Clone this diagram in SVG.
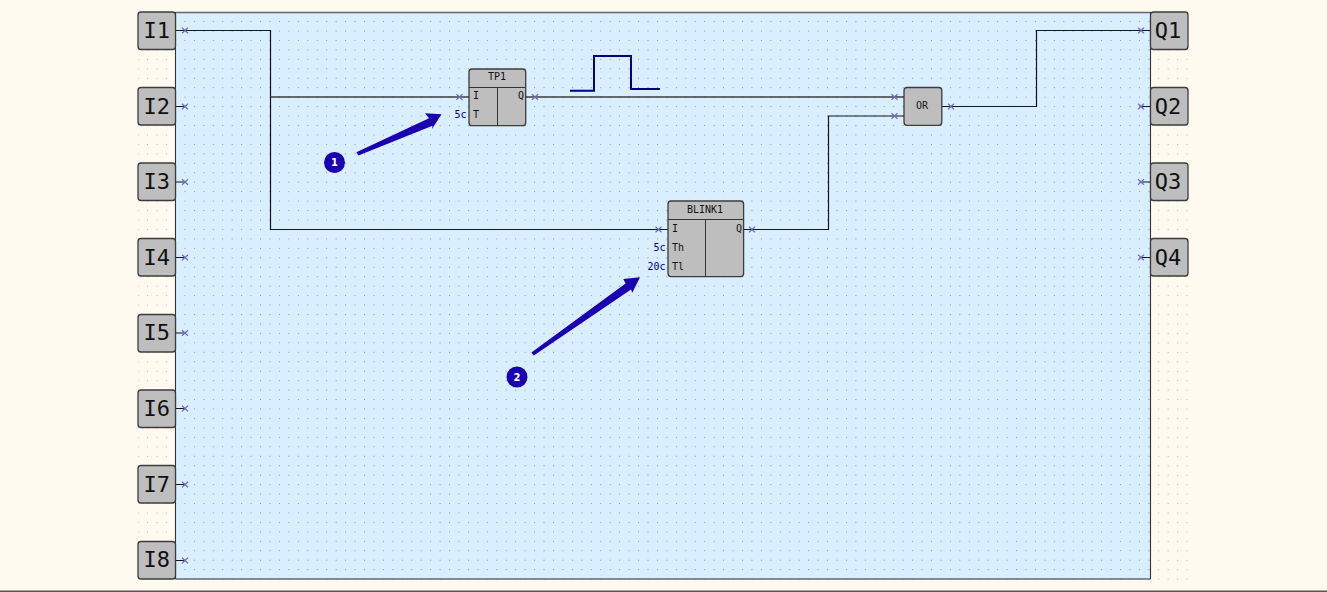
<svg xmlns="http://www.w3.org/2000/svg" xmlns:xlink="http://www.w3.org/1999/xlink" width="1327" height="592" viewBox="0 0 1327 592">
<style>
.box{fill:#bebebe;stroke:#3c3c3c;stroke-width:1.3}
.pin{font:22px "DejaVu Sans Mono","Liberation Mono",monospace;fill:#111;text-anchor:middle}
.lbl{font:10px "DejaVu Sans Mono","Liberation Mono",monospace;fill:#111}
.val{font:10px "DejaVu Sans Mono","Liberation Mono",monospace;fill:#00008b;text-anchor:end}
.mid{text-anchor:middle}
.end{text-anchor:end}
.div{stroke:#333;stroke-width:1;fill:none}
.wire{stroke:#151515;stroke-width:1.2;fill:none}
.wire2{stroke:#3c3c3c;stroke-width:1.6;fill:none}
.num{font:bold 10px "DejaVu Sans",sans-serif;fill:#fff;text-anchor:middle}
</style>
<defs>
<pattern id="gridOut" x="137.6" y="11.7" width="9.45" height="9.45" patternUnits="userSpaceOnUse"><rect x="0" y="0" width="1" height="1" fill="#b9b9b0"/></pattern>
<pattern id="gridIn" x="175" y="11.6" width="9.45" height="9.45" patternUnits="userSpaceOnUse"><rect x="0" y="0" width="1" height="1" fill="#84949f"/></pattern>
<path id="x" d="M-3-2.8 3 2.8M-3 2.8 3-2.8" stroke="#6c6cc4" stroke-width="1.2" fill="none"/>
</defs>
<rect width="1327" height="592" fill="#fffaf0"/>
<rect x="138" y="12" width="1051" height="568" fill="url(#gridOut)"/>
<rect x="0" y="590.5" width="1327" height="1.5" fill="#555"/>
<g id="board">
<rect x="176" y="12.5" width="974.5" height="566.5" fill="#d9eefe"/>
<rect x="176" y="12.5" width="974.5" height="566.5" fill="url(#gridIn)"/>
<path d="M175.5 12.5H1150.5" stroke="#666" stroke-width="1.6" fill="none"/>
<path d="M175.5 579H1150.5" stroke="#667" stroke-width="1.6" fill="none"/>
<path d="M175.5 12V579M1150.5 12V579" stroke="#333" stroke-width="1.1" fill="none"/>
</g>
<g id="connectors">
<path class="wire" d="M176 30.5H270.5V229.5H668"/>
<path class="wire2" d="M270.5 97H469"/>
<path class="wire2" d="M526 97H904"/>
<path class="wire" d="M744 229.5H828.5V116H904"/>
<path class="wire" d="M942 106.5H1036.5V30.5H1150"/>
<path class="wire" d="M176 106.5H185M176 182H185M176 257.5H185M176 333H185M176 408.5H185M176 484.5H185M176 560.5H185M1141 106.5H1150M1141 182H1150M1141 257.5H1150"/>
</g>
<g id="ports">
<use xlink:href="#x" x="185" y="30.5"/><use xlink:href="#x" x="185" y="106.5"/><use xlink:href="#x" x="185" y="182"/><use xlink:href="#x" x="185" y="257.5"/><use xlink:href="#x" x="185" y="333"/><use xlink:href="#x" x="185" y="408.5"/><use xlink:href="#x" x="185" y="484.5"/><use xlink:href="#x" x="185" y="560.5"/>
<use xlink:href="#x" x="1141" y="30.5"/><use xlink:href="#x" x="1141" y="106.5"/><use xlink:href="#x" x="1141" y="182"/><use xlink:href="#x" x="1141" y="257.5"/>
<use xlink:href="#x" x="459.5" y="97"/><use xlink:href="#x" x="535" y="97"/><use xlink:href="#x" x="658.5" y="229.5"/><use xlink:href="#x" x="752" y="229.5"/><use xlink:href="#x" x="894.5" y="97"/><use xlink:href="#x" x="894.5" y="116"/><use xlink:href="#x" x="951" y="106.5"/>
</g>
<g id="I1"><rect class="box" x="138" y="12" width="37.5" height="37.5" rx="3"/><text class="pin" x="156.8" y="38">I1</text></g>
<g id="I2"><rect class="box" x="138" y="87.5" width="37.5" height="37.5" rx="3"/><text class="pin" x="156.8" y="113.5">I2</text></g>
<g id="I3"><rect class="box" x="138" y="163" width="37.5" height="37.5" rx="3"/><text class="pin" x="156.8" y="189">I3</text></g>
<g id="I4"><rect class="box" x="138" y="238.5" width="37.5" height="37.5" rx="3"/><text class="pin" x="156.8" y="264.5">I4</text></g>
<g id="I5"><rect class="box" x="138" y="314.5" width="37.5" height="37.5" rx="3"/><text class="pin" x="156.8" y="340">I5</text></g>
<g id="I6"><rect class="box" x="138" y="390" width="37.5" height="37.5" rx="3"/><text class="pin" x="156.8" y="415.5">I6</text></g>
<g id="I7"><rect class="box" x="138" y="465.5" width="37.5" height="37.5" rx="3"/><text class="pin" x="156.8" y="491.5">I7</text></g>
<g id="I8"><rect class="box" x="138" y="541.5" width="37.5" height="37.5" rx="3"/><text class="pin" x="156.8" y="567">I8</text></g>
<g id="Q1"><rect class="box" x="1150.5" y="12" width="37.5" height="37.5" rx="3"/><text class="pin" x="1168" y="38">Q1</text></g>
<g id="Q2"><rect class="box" x="1150.5" y="87.5" width="37.5" height="37.5" rx="3"/><text class="pin" x="1168" y="113.5">Q2</text></g>
<g id="Q3"><rect class="box" x="1150.5" y="163" width="37.5" height="37.5" rx="3"/><text class="pin" x="1168" y="189">Q3</text></g>
<g id="Q4"><rect class="box" x="1150.5" y="238.5" width="37.5" height="37.5" rx="3"/><text class="pin" x="1168" y="264.5">Q4</text></g>
<g id="TP1">
<rect class="box" x="469" y="69" width="56.7" height="56.7" rx="3"/>
<path class="div" d="M469 87.5H525.7M497.5 87.5V125.7"/>
<text class="lbl mid" x="497" y="80">TP1</text>
<text class="lbl" x="473" y="99">I</text>
<text class="lbl" x="473" y="118">T</text>
<text class="lbl end" x="524" y="99">Q</text>
<text class="val" x="466.5" y="118">5c</text>
</g>
<g id="BLINK1">
<rect class="box" x="668" y="201" width="75.6" height="75.6" rx="3"/>
<path class="div" d="M668 219.5H743.6M705.5 219.5V276.6"/>
<text class="lbl mid" x="705" y="213">BLINK1</text>
<text class="lbl" x="672" y="232">I</text>
<text class="lbl" x="672" y="251">Th</text>
<text class="lbl" x="672" y="270">Tl</text>
<text class="lbl end" x="742" y="232">Q</text>
<text class="val" x="665.5" y="251">5c</text>
<text class="val" x="665.5" y="270">20c</text>
</g>
<g id="OR">
<rect class="box" x="904" y="87.5" width="37.8" height="37.8" rx="3"/>
<text class="lbl mid" x="922" y="109">OR</text>
</g>
<g id="pulse"><path d="M570 90.8H594V56H631V89H660" fill="none" stroke="#000080" stroke-width="2"/></g>
<g id="callout1">
<path d="M356.4 152.3 429 118.2 425 113.3 441.5 114.3 432 129 432.5 125.8 358.4 155.4Z" fill="#1a00b0"/>
<circle cx="334.5" cy="162.5" r="10.5" fill="#1a00b0"/>
<text class="num" x="334.5" y="166">1</text>
</g>
<g id="callout2">
<path d="M531.4 352.6 625.6 283.4 623.3 279 640 277.3 632.3 292.7 631 289.6 533.8 355.5Z" fill="#1a00b0"/>
<circle cx="517" cy="377" r="10.5" fill="#1a00b0"/>
<text class="num" x="517" y="381">2</text>
</g>
</svg>
